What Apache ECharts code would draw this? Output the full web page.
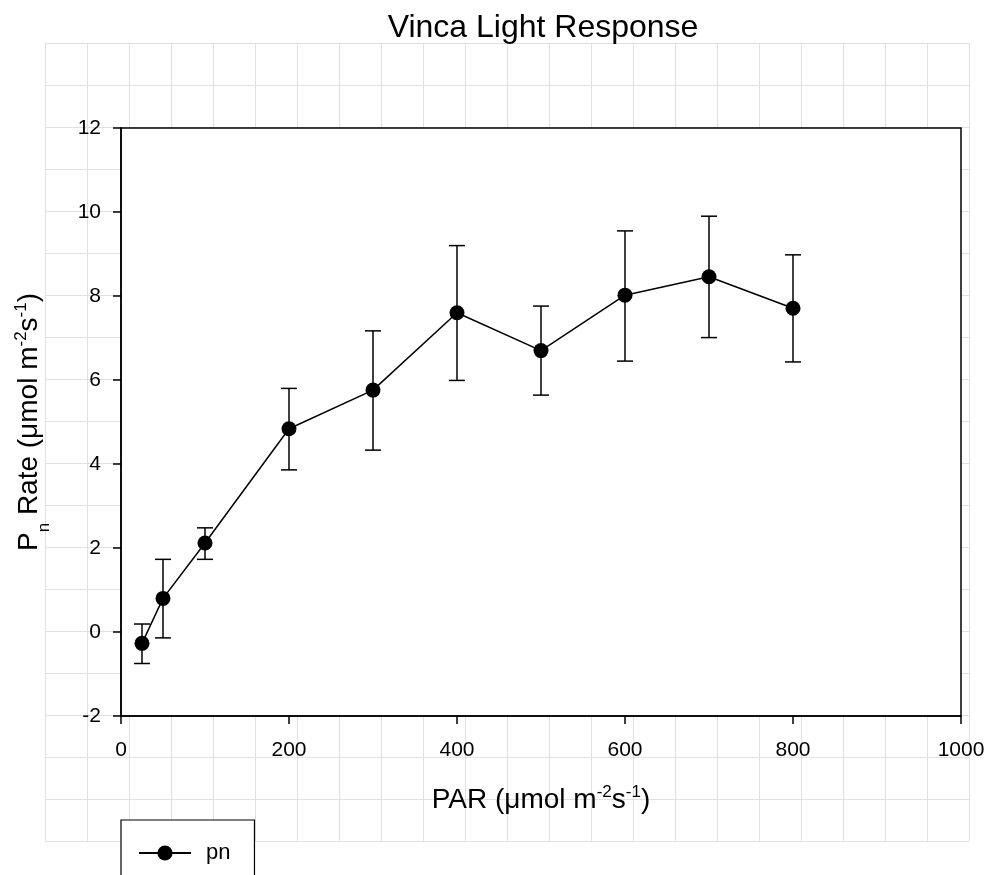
<!DOCTYPE html>
<html>
<head>
<meta charset="utf-8">
<script src="https://cdn.jsdelivr.net/npm/echarts@6/dist/echarts.min.js"></script>
<style>
html,body{margin:0;padding:0;background:#fff;}
#chart{width:988px;height:875px;}
</style>
</head>
<body>
<div id="chart"></div>
<script>
// ---- data ----
const par = [25, 50, 100, 200, 300, 400, 500, 600, 700, 800];
const pn = [-0.27, 0.80, 2.12, 4.84, 5.76, 7.60, 6.70, 8.02, 8.46, 7.71];
const pnUpper = [0.19, 1.73, 2.48, 5.80, 7.17, 9.20, 7.76, 9.55, 9.90, 8.98];
const pnLower = [-0.75, -0.14, 1.73, 3.86, 4.33, 5.99, 5.64, 6.45, 7.01, 6.43];
const xTicks = [0, 200, 400, 600, 800, 1000];
const yTicks = [-2, 0, 2, 4, 6, 8, 10, 12];
const seriesName = 'pn';

const FONT = '"Liberation Sans", Arial, sans-serif';
const lineData = par.map((x, i) => [x, pn[i]]);
const errData = par.map((x, i) => [x, pnLower[i], pnUpper[i]]);

const chart = echarts.init(document.getElementById('chart'), null, {renderer: 'canvas'});
const cyan = '#bdf0f0';

chart.setOption({
  animation: false,
  backgroundColor: '#ffffff',
  title: {
    text: 'Vinca Light Response',
    left: 538,
    textAlign: 'center',
    top: 7,
    textStyle: {fontFamily: FONT, fontSize: 32, fontWeight: 'normal', color: '#000'}
  },
  legend: {
    data: [seriesName],
    left: 121,
    top: 820,
    orient: 'horizontal',
    itemWidth: 52,
    itemHeight: 19,
    padding: [22, 24, 24, 17],
    borderColor: '#000',
    borderWidth: 1.2,
    backgroundColor: '#fff',
    textStyle: {fontFamily: FONT, fontSize: 22, color: '#000', padding: [0, 0, 0, 10]}
  },
  grid: [
    {left: 121, right: 27, top: 128, bottom: 159, show: true, backgroundColor: '#fff',
     borderColor: '#000', borderWidth: 1.5, z: 1, containLabel: false},
    {left: 45, top: 43, width: 924, height: 798, show: false, z: 0}
  ],
  xAxis: [
    {
      type: 'value', gridIndex: 0, min: xTicks[0], max: xTicks[xTicks.length - 1], interval: 200,
      z: 2,
      axisLine: {show: true, onZero: false, lineStyle: {color: '#000', width: 1.5}},
      axisTick: {show: true, inside: false, length: 8, lineStyle: {color: '#000', width: 1.5}},
      axisLabel: {fontFamily: FONT, fontSize: 21, color: '#000', margin: 24, formatter: v => String(v)},
      splitLine: {show: false},
      name: '{a|PAR (μmol m}{sup|-2}{a|s}{sup|-1}{a|)}',
      nameLocation: 'middle',
      nameGap: 68,
      nameTextStyle: {
        fontFamily: FONT, color: '#000',
        rich: {
          a: {fontFamily: FONT, fontSize: 28, color: '#000', lineHeight: 30, verticalAlign: 'bottom'},
          sup: {fontFamily: FONT, fontSize: 17, color: '#000', lineHeight: 30, verticalAlign: 'top'}
        }
      }
    },
    {
      type: 'value', gridIndex: 1, min: 0, max: 22, interval: 1, z: 0,
      axisLine: {show: false}, axisTick: {show: false}, axisLabel: {show: false},
      splitLine: {show: true, lineStyle: {color: cyan, width: 1}}
    }
  ],
  yAxis: [
    {
      type: 'value', gridIndex: 0, min: yTicks[0], max: yTicks[yTicks.length - 1], interval: 2,
      z: 2,
      axisLine: {show: true, onZero: false, lineStyle: {color: '#000', width: 1.5}},
      axisTick: {show: true, inside: false, length: 8, lineStyle: {color: '#000', width: 1.5}},
      axisLabel: {fontFamily: FONT, fontSize: 21, color: '#000', margin: 20},
      splitLine: {show: false},
      name: '{a|P}{sub|n}{a| Rate (μmol m}{sup|-2}{a|s}{sup|-1}{a|)}',
      nameLocation: 'middle',
      nameRotate: 90,
      nameGap: 76,
      nameTextStyle: {
        fontFamily: FONT, color: '#000',
        rich: {
          a: {fontFamily: FONT, fontSize: 28, color: '#000', lineHeight: 32, verticalAlign: 'middle'},
          sub: {fontFamily: FONT, fontSize: 17, color: '#000', lineHeight: 32, verticalAlign: 'bottom', padding: [0, 0, -8, 0]},
          sup: {fontFamily: FONT, fontSize: 17, color: '#000', lineHeight: 32, verticalAlign: 'top'}
        }
      }
    },
    {
      type: 'value', gridIndex: 1, min: 0, max: 19, interval: 1, z: 0, inverse: true,
      axisLine: {show: false}, axisTick: {show: false}, axisLabel: {show: false},
      splitLine: {show: true, lineStyle: {color: cyan, width: 1}}
    }
  ],
  series: [
    {
      type: 'custom',
      name: 'err',
      xAxisIndex: 0, yAxisIndex: 0,
      z: 3,
      data: errData,
      encode: {x: 0, y: [1, 2]},
      renderItem: function (params, api) {
        const x = api.value(0);
        const lo = api.coord([x, api.value(1)]);
        const hi = api.coord([x, api.value(2)]);
        const w = 8;
        const st = {stroke: '#000', lineWidth: 1.5};
        return {
          type: 'group',
          children: [
            {type: 'line', shape: {x1: hi[0], y1: hi[1], x2: lo[0], y2: lo[1]}, style: st},
            {type: 'line', shape: {x1: hi[0] - w, y1: hi[1], x2: hi[0] + w, y2: hi[1]}, style: st},
            {type: 'line', shape: {x1: lo[0] - w, y1: lo[1], x2: lo[0] + w, y2: lo[1]}, style: st}
          ]
        };
      }
    },
    {
      type: 'line',
      name: seriesName,
      xAxisIndex: 0, yAxisIndex: 0,
      z: 4,
      data: lineData,
      symbol: 'circle',
      symbolSize: 15,
      showAllSymbol: true,
      lineStyle: {color: '#000', width: 1.5},
      itemStyle: {color: '#000'}
    }
  ]
});
</script>
</body>
</html>
